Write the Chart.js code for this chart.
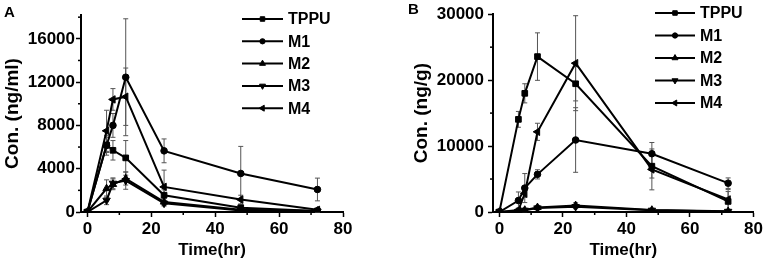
<!DOCTYPE html>
<html>
<head>
<meta charset="utf-8">
<script src="https://cdn.jsdelivr.net/npm/chart.js@4/dist/chart.umd.min.js"></script>
<style>
  html, body { margin: 0; padding: 0; background: #fff; }
  #wrap { position: relative; width: 765px; height: 263px; overflow: hidden; }
  .panel { position: absolute; top: 0; height: 263px; }
  .tag { position: absolute; font: bold 15px "Liberation Sans", Arial, sans-serif; color: #000; }
</style>
</head>
<body>
<div id="wrap">
  <div class="panel" style="left:0;width:380px"><canvas id="chartA" width="380" height="263"></canvas></div>
  <div class="panel" style="left:380px;width:385px"><canvas id="chartB" width="385" height="263"></canvas></div>
  <div class="tag" style="left:4px;top:3px">A</div>
  <div class="tag" style="left:408px;top:0px">B</div>
</div>
<script>
// --- Datos ---
const timePoints = [0, 6, 8, 12, 24, 48, 72];
const seriesNames = ['TPPU', 'M1', 'M2', 'M3', 'M4'];

// Panel A: plasma (ng/ml)
const plasmaTPPU = [0, 6200, 5700, 5000, 1550, 400, 100];
const plasmaM1   = [0, 6150, 8000, 12450, 5650, 3560, 2080];
const plasmaM2   = [0, 2170, 2560, 3090, 930, 200, 100];
const plasmaM3   = [0, 1080, 2650, 2900, 800, 150, 50];
const plasmaM4   = [0, 7500, 10400, 10650, 2320, 1150, 200];
const plasmaErrTPPU = [0, 700, 900, 1600, 500, 200, 80];
const plasmaErrM1   = [0, 900, 1100, 5400, 1100, 2500, 1050];
const plasmaErrM2   = [0, 800, 500, 600, 300, 100, 50];
const plasmaErrM3   = [0, 400, 500, 800, 250, 80, 40];
const plasmaErrM4   = [0, 1900, 1000, 2650, 1550, 400, 150];

// Panel B: tissue (ng/g)
const tissueTPPU = [0, 14050, 18000, 23570, 19450, 6950, 1600];
const tissueM1   = [0, 1740, 3630, 5710, 10920, 8840, 4370];
const tissueM2   = [0, 100, 300, 700, 1000, 300, 100];
const tissueM3   = [0, 80, 250, 600, 800, 250, 80];
const tissueM4   = [0, 300, 2800, 12160, 22570, 6460, 1900];
const tissueErrTPPU = [0, 1200, 1450, 3600, 2600, 1800, 1500];
const tissueErrM1   = [0, 1300, 2200, 700, 4900, 1700, 800];
const tissueErrM2   = [0, 100, 200, 300, 400, 200, 100];
const tissueErrM3   = [0, 100, 200, 300, 300, 150, 80];
const tissueErrM4   = [0, 300, 600, 1300, 7200, 3100, 1500];

const xTicks = [0, 20, 40, 60, 80];
const yTicksA = [0, 4000, 8000, 12000, 16000];
const yTicksB = [0, 10000, 20000, 30000];

// --- Estilos ---
const FONT = '"Liberation Sans", Arial, sans-serif';
const markers = [
  { pointStyle: 'rect', radius: 4, rotation: 0 },
  { pointStyle: 'circle', radius: 3.3, rotation: 0 },
  { pointStyle: 'triangle', radius: 4.3, rotation: 0 },
  { pointStyle: 'triangle', radius: 4.3, rotation: 180 },
  { pointStyle: 'triangle', radius: 4.3, rotation: -90 }
];

function buildDatasets(values, errors) {
  return values.map((vals, i) => ({
    label: seriesNames[i],
    data: vals.map((v, k) => ({ x: timePoints[k], y: v })),
    errors: errors[i],
    borderColor: '#000',
    backgroundColor: '#000',
    borderWidth: 2,
    pointStyle: markers[i].pointStyle,
    pointRadius: markers[i].radius,
    pointRotation: markers[i].rotation,
    pointBackgroundColor: '#000',
    pointBorderColor: '#000',
    pointBorderWidth: 1,
    tension: 0
  }));
}

// barras de error, dibujadas con las escalas del gráfico
const errorBarPlugin = {
  id: 'errorBars',
  beforeDatasetsDraw(chart) {
    const { ctx, scales: { x, y } } = chart;
    ctx.save();
    ctx.strokeStyle = '#555';
    ctx.lineWidth = 1;
    chart.data.datasets.forEach(ds => {
      ds.data.forEach((p, k) => {
        const e = ds.errors[k];
        if (!e) return;
        const px = x.getPixelForValue(p.x);
        const top = y.getPixelForValue(p.y + e);
        const bot = y.getPixelForValue(Math.max(p.y - e, y.min));
        ctx.beginPath();
        ctx.moveTo(px, top); ctx.lineTo(px, bot);
        ctx.moveTo(px - 2.5, top); ctx.lineTo(px + 2.5, top);
        if (p.y - e > y.min) { ctx.moveTo(px - 2.5, bot); ctx.lineTo(px + 2.5, bot); }
        ctx.stroke();
      });
    });
    ctx.restore();
  }
};

// ticks menores entre los mayores
const minorTickPlugin = {
  id: 'minorTicks',
  afterDraw(chart) {
    const { ctx, scales: { x, y } } = chart;
    ctx.save();
    ctx.strokeStyle = '#000';
    ctx.lineWidth = 1.5;
    const xs = x.ticks.map(t => t.value);
    for (let i = 0; i < xs.length - 1; i++) {
      const px = x.getPixelForValue((xs[i] + xs[i + 1]) / 2);
      ctx.beginPath(); ctx.moveTo(px, y.bottom); ctx.lineTo(px, y.bottom + 3); ctx.stroke();
    }
    const ys = y.ticks.map(t => t.value);
    const step = ys[1] - ys[0];
    for (let v = ys[0] + step / 2; v < y.max; v += step) {
      if (ys.includes(v)) continue;
      const py = y.getPixelForValue(v);
      ctx.beginPath(); ctx.moveTo(x.left, py); ctx.lineTo(x.left - 3, py); ctx.stroke();
    }
    ctx.restore();
  }
};

// leyenda dibujada a mano dentro del gráfico
const legendPlugin = {
  id: 'manualLegend',
  afterDraw(chart, args, opts) {
    const { ctx } = chart;
    ctx.save();
    ctx.font = 'bold 16px ' + FONT;
    ctx.textBaseline = 'middle';
    ctx.fillStyle = '#000';
    chart.data.datasets.forEach((ds, i) => {
      const yy = opts.y0 + i * opts.dy;
      ctx.strokeStyle = '#000';
      ctx.lineWidth = 2;
      ctx.beginPath(); ctx.moveTo(opts.x0, yy); ctx.lineTo(opts.x0 + opts.len, yy); ctx.stroke();
      ctx.lineWidth = 1;
      Chart.helpers.drawPoint(ctx, {
        pointStyle: ds.pointStyle, radius: ds.pointRadius * 0.8, rotation: ds.pointRotation, borderWidth: 1
      }, opts.x0 + opts.len / 2, yy);
      ctx.fillText(ds.label, opts.x0 + opts.len + 5, yy + 1);
    });
    ctx.restore();
  }
};

function createPanel(canvasId, datasets, cfg) {
  return new Chart(document.getElementById(canvasId), {
    type: 'line',
    data: { datasets },
    plugins: [errorBarPlugin, minorTickPlugin, legendPlugin],
    options: {
      responsive: false,
      animation: false,
      layout: { padding: { left: cfg.padLeft, right: cfg.padRight, top: cfg.padTop, bottom: 0 } },
      plugins: {
        legend: { display: false },
        tooltip: { enabled: false },
        manualLegend: cfg.legend
      },
      scales: {
        x: {
          type: 'linear',
          min: -2, max: 80,
          afterBuildTicks: s => { s.ticks = xTicks.map(v => ({ value: v })); },
          afterFit: s => { s.height = cfg.xHeight; },
          grid: { drawOnChartArea: false, tickLength: 5, tickWidth: 1.5, tickColor: '#000' },
          border: { display: true, color: '#000', width: 2 },
          ticks: { color: '#000', padding: 2, callback: v => String(v),
                   font: { family: FONT, size: 17, weight: 'bold' } },
          title: { display: true, text: 'Time(hr)', color: '#000', padding: { top: 0, bottom: 2 },
                   font: { family: FONT, size: 17, weight: 'bold' } }
        },
        y: {
          type: 'linear',
          min: 0, max: cfg.yMax,
          afterBuildTicks: s => { s.ticks = cfg.yTicks.map(v => ({ value: v })); },
          afterFit: s => { s.width = cfg.yWidth; },
          grid: { drawOnChartArea: false, tickLength: 5, tickWidth: 1.5, tickColor: '#000' },
          border: { display: true, color: '#000', width: 2 },
          ticks: { color: '#000', padding: cfg.yPad, callback: v => String(v),
                   font: { family: FONT, size: 17, weight: 'bold' } },
          title: { display: true, text: cfg.yTitle, color: '#000', padding: { top: 0, bottom: 0 },
                   font: { family: FONT, size: 19, weight: 'bold' } }
        }
      }
    }
  });
}

createPanel('chartA',
  buildDatasets([plasmaTPPU, plasmaM1, plasmaM2, plasmaM3, plasmaM4],
                [plasmaErrTPPU, plasmaErrM1, plasmaErrM2, plasmaErrM3, plasmaErrM4]),
  { padLeft: 1, padRight: 37, padTop: 15, xHeight: 51, yWidth: 80, yPad: 1,
    yMax: 18200, yTicks: yTicksA, yTitle: 'Con. (ng/ml)',
    legend: { x0: 242, y0: 19, dy: 22.3, len: 41 } });

createPanel('chartB',
  buildDatasets([tissueTPPU, tissueM1, tissueM2, tissueM3, tissueM4],
                [tissueErrTPPU, tissueErrM1, tissueErrM2, tissueErrM3, tissueErrM4]),
  { padLeft: 30, padRight: 11, padTop: 10, xHeight: 51, yWidth: 83, yPad: 4,
    yMax: 30000, yTicks: yTicksB, yTitle: 'Con. (ng/g)',
    legend: { x0: 275, y0: 13, dy: 22.5, len: 40 } });
</script>
</body>
</html>
